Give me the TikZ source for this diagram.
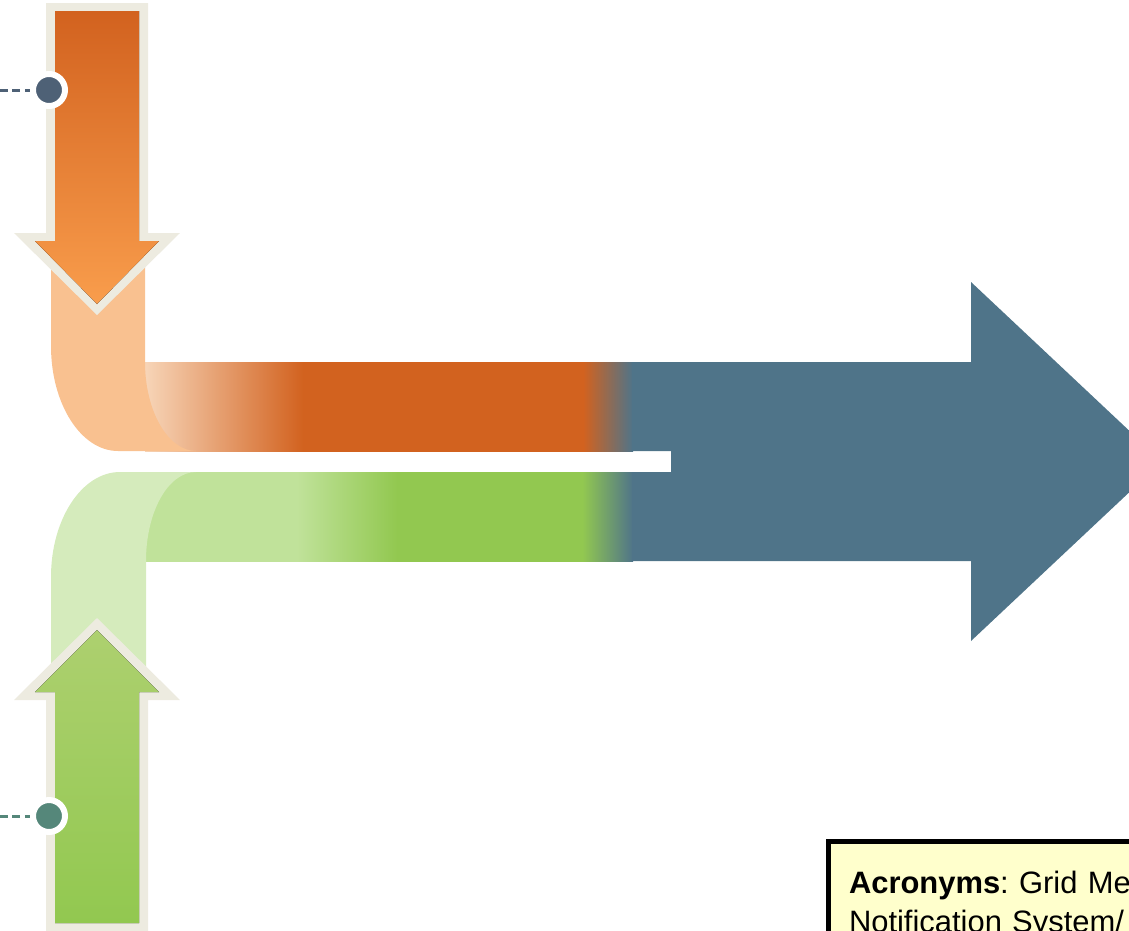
\documentclass[tikz,border=0pt]{standalone}
\usepackage{fontspec}
\setmainfont{Liberation Sans}
\usetikzlibrary{positioning}

\definecolor{RimBeige}{HTML}{EDEBE0}
\definecolor{OrangeDark}{HTML}{D2621F}
\definecolor{OrangeTip}{HTML}{F99D4C}
\definecolor{OrangeFade}{HTML}{F7D5B8}
\definecolor{PeachPipe}{HTML}{F9C190}
\definecolor{GreenPale}{HTML}{D5EBBC}
\definecolor{GreenLight}{HTML}{C0E29A}
\definecolor{GreenMid}{HTML}{92C850}
\definecolor{GreenTip}{HTML}{ADD06F}
\definecolor{PipeBlue}{HTML}{4F7489}
\definecolor{DotSlate}{HTML}{4E6176}
\definecolor{DotTeal}{HTML}{55877A}
\definecolor{NoteYellow}{HTML}{FFFFCC}

% bands: path box maps onto 25bp..75bp
\pgfdeclarehorizontalshading{OrangeBand}{100bp}{color(0bp)=(OrangeFade); color(25bp)=(OrangeFade);
  color(41.2bp)=(OrangeDark); color(69.9bp)=(OrangeDark); color(75bp)=(PipeBlue); color(100bp)=(PipeBlue)}
\pgfdeclarehorizontalshading{GreenBand}{100bp}{color(0bp)=(GreenLight); color(25bp)=(GreenLight);
  color(40.5bp)=(GreenLight); color(50.8bp)=(GreenMid); color(69.8bp)=(GreenMid); color(75bp)=(PipeBlue);
  color(100bp)=(PipeBlue)}

\begin{document}
\begin{tikzpicture}[x=0.02cm,y=-0.02cm]
  \tikzset{RimStyle/.style  = {fill=RimBeige, draw=none},
           DotStyle/.style  = {shape        = circle,
                                draw         = white,
                                line width   = 0.12cm,
                                inner sep    = 0pt,
                                minimum size = 0.64cm},
           LeadStyle/.style = {dash pattern=on 0.16cm off 0.09cm, line width=0.06cm},
           NoteStyle/.style = {shape        = rectangle,
                                fill         = NoteYellow,
                                draw         = black,
                                line width   = 0.09cm,
                                text width   = 8cm,
                                align        = left,
                                inner xsep   = 0.415cm,
                                inner ysep   = 0.6cm,
                                font         = \fontsize{17.6}{22}\selectfont\frenchspacing}}
  \useasboundingbox (0,0) rectangle (1129,930);
  \clip (0,0) rectangle (1129,930);
	%%% BANDES %%%
	\fill[shading=OrangeBand] (145,362) rectangle (633,451);
	\fill[shading=GreenBand] (146,472) rectangle (633,561);
	%%% FLECHE BLEUE %%%
	\fill[PipeBlue] (632,362) -- (971,362) -- (971,282) -- (1162,461.5) -- (971,641)
	  -- (971,561) -- (632,561) -- (632,472) -- (671,472) -- (671,451) -- (632,451) -- cycle;
	%%% COUDES %%%
	\fill[PeachPipe] (51,240) -- (51,346) .. controls (51,404) and (81,451) .. (118,451)
	  -- (196,451) .. controls (168,451) and (145,411) .. (145,362) -- (145,240) -- cycle;
	\fill[GreenPale] (51,710) -- (51,577) .. controls (51,519) and (82,472) .. (120,472)
	  -- (196,472) .. controls (168,472) and (146,512) .. (146,561) -- (146,710) -- cycle;
	%%% FLECHE DU HAUT %%%
	\fill[RimStyle] (46,3) -- (148,3) -- (148,233) -- (180,233) -- (97,315) -- (14,233) -- (46,233) -- cycle;
	\fill[top color=OrangeDark, bottom color=OrangeTip]
	  (55,11) -- (139,11) -- (139,241) -- (159,241) -- (97,304) -- (35,241) -- (55,241) -- cycle;
	%%% FLECHE DU BAS %%%
	\fill[RimStyle] (46,940) -- (46,700) -- (14,700) -- (97,618) -- (180,700) -- (148,700) -- (148,940) -- cycle;
	\fill[top color=GreenTip, bottom color=GreenMid]
	  (55,923) -- (55,692) -- (35,692) -- (97,630) -- (159,692) -- (139,692) -- (139,923) -- cycle;
	%%% POINTS %%%
	\node[DotStyle, fill=DotSlate](dtop) at (49,90){};
	\coordinate (ltop) at (0,90);
	\draw[LeadStyle, DotSlate](ltop) -- (dtop);
	\node[DotStyle, fill=DotTeal](dbot) at (49,816){};
	\coordinate (lbot) at (0,816);
	\draw[LeadStyle, DotTeal](lbot) -- (dbot);
	%%% ACRONYMES %%%
	\node[NoteStyle, anchor=north west](acro) at (826,839){\textbf{Acronyms}: Grid Me\\Notification System/};
\end{tikzpicture}
\end{document}
